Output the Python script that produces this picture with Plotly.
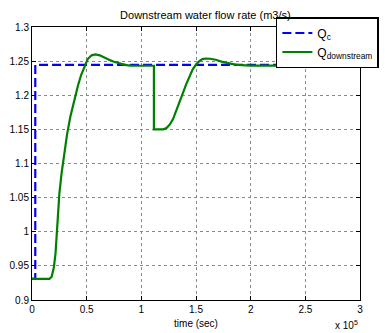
import plotly.graph_objects as go

# Reference (commanded) flow Qc
qc_t = [0, 3000, 3000, 300000]
qc_v = [0.931, 0.931, 1.2445, 1.2445]

# Downstream flow
qd_t = [0, 16000, 18000, 20000, 21500, 23000, 25000, 27000, 29000, 32000, 35000,
        38500, 42000, 45000, 48000, 51000, 54500, 58000, 62000, 66000, 70000,
        75000, 80000, 85000, 90000, 100000, 111500, 111500, 120000, 123000,
        126000, 129000, 132000, 135000, 138000, 141000, 144000, 147000, 150000,
        153000, 156000, 159000, 163000, 168000, 174000, 180000, 186000, 192000,
        200000, 300000]
qd_v = [0.931, 0.931, 0.934, 0.948, 0.968, 1.005, 1.055, 1.085, 1.11, 1.142, 1.168,
        1.192, 1.214, 1.23, 1.243, 1.253, 1.2585, 1.2598, 1.2585, 1.256, 1.2525,
        1.249, 1.2465, 1.2445, 1.2435, 1.2432, 1.2432, 1.15, 1.15, 1.152,
        1.157, 1.165, 1.177, 1.19, 1.203, 1.216, 1.228, 1.238, 1.245,
        1.25, 1.253, 1.2538, 1.2535, 1.252, 1.249, 1.2465, 1.245, 1.244,
        1.2435, 1.2435]

x_ticks = [0, 50000, 100000, 150000, 200000, 250000, 300000]
x_tick_text = ["0", "0.5", "1", "1.5", "2", "2.5", "3"]
y_ticks = [0.9, 0.95, 1, 1.05, 1.1, 1.15, 1.2, 1.25, 1.3]
y_tick_text = ["0.9", "0.95", "1", "1.05", "1.1", "1.15", "1.2", "1.25", "1.3"]

FONT = "Liberation Sans, Arial, sans-serif"

fig = go.Figure()
fig.add_trace(go.Scatter(x=qc_t, y=qc_v, mode="lines", name="Q<sub>c</sub>",
                         line=dict(color="#0000ff", width=2.2, dash="9px,4px")))
fig.add_trace(go.Scatter(x=qd_t, y=qd_v, mode="lines", name="Q<sub>downstream</sub>",
                         line=dict(color="#008000", width=2.2)))

axis_common = dict(showline=True, linecolor="black", linewidth=1, mirror="ticks",
                   ticks="inside", ticklen=4, tickcolor="black",
                   showgrid=True, gridcolor="#8a8a8a", gridwidth=1, griddash="dot",
                   zeroline=False, tickfont=dict(family=FONT, size=10, color="black"))

fig.update_xaxes(range=[0, 300000], tickvals=x_ticks, ticktext=x_tick_text,
                 title=dict(text="time (sec)", font=dict(family=FONT, size=10, color="black"),
                            standoff=5),
                 **axis_common)
fig.update_yaxes(range=[0.9, 1.3], tickvals=y_ticks, ticktext=y_tick_text, **axis_common)

fig.add_annotation(text="x 10<sup>5</sup>", xref="paper", yref="paper", x=1.0, y=-0.092,
                   xanchor="right", yanchor="middle", showarrow=False,
                   font=dict(family=FONT, size=10, color="black"))

fig.update_layout(
    width=385, height=333,
    margin=dict(l=32, r=6, t=27, b=33),
    paper_bgcolor="white", plot_bgcolor="white",
    title=dict(text="Downstream water flow rate (m3/s)", x=0.5335, xanchor="center",
               y=1 - 15 / 333, yanchor="middle",
               font=dict(family=FONT, size=11, color="black")),
    legend=dict(x=0.7435, y=1.0366, xanchor="left", yanchor="top",
                bgcolor="white", bordercolor="black", borderwidth=1.5,
                font=dict(family=FONT, size=12, color="black"),
                tracegroupgap=0, itemwidth=30),
    showlegend=True,
)

fig.write_html("out.html")
